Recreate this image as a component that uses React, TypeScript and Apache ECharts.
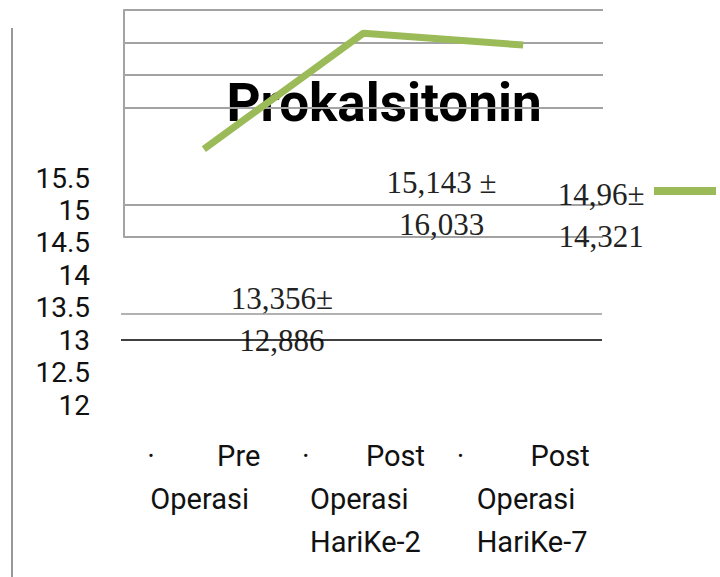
import React, { useEffect, useRef } from "react";
import * as echarts from "echarts";

// ---- data ----
const categories = ["Pre Operasi", "Post Operasi HariKe-2", "Post Operasi HariKe-7"];
const meanValues = [13.356, 15.143, 14.96];
const sdValues = [12.886, 16.033, 14.321];
const pmSeparators = ["±", " ±", "±"];
const yTicks = [12, 12.5, 13, 13.5, 14, 14.5, 15, 15.5];
const refLines = [13.4, 13.0];
const seriesName = "Prokalsitonin";

// ---- style ----
const GREEN = "#9BBB59";
const GRID_GRAY = "#a3a3a3";
const blockWidths = [113, 123, 133];
const indents = [3, 8, 20];

const fmt = (v: number) => String(v).replace(".", ",");

export default function App() {
  const ref = useRef<HTMLDivElement>(null);
  useEffect(() => {
    if (!ref.current) return;
    const chart = echarts.init(ref.current, null, { renderer: "svg" });
    const yMin = yTicks[0];
    const yMax = yTicks[yTicks.length - 1];
    const step = yTicks[1] - yTicks[0];

    const labelFont = { fontFamily: "Roboto", fontSize: 29, lineHeight: 43, color: "#111" };
    const rich: any = { p: { ...labelFont, width: 60, align: "right" } };
    categories.forEach((_, i) => {
      rich["d" + i] = { ...labelFont, width: blockWidths[i] - 60, align: "left" };
      rich["o" + i] = { ...labelFont, align: "left", padding: [0, 0, 0, indents[i]] };
    });

    chart.setOption({
      animation: false,
      backgroundColor: "#fff",
      title: {
        text: seriesName,
        left: 384,
        top: 76,
        textAlign: "center",
        padding: 0,
        z: 0,
        textStyle: { fontFamily: "Roboto", fontWeight: "bold", fontSize: 53, color: "#000" },
      },
      legend: {
        data: [seriesName],
        left: 654,
        top: 187,
        icon: "rect",
        itemWidth: 62,
        itemHeight: 8,
        padding: 0,
        formatter: () => "",
      },
      graphic: [
        {
          type: "line",
          shape: { x1: 12, y1: 28, x2: 12, y2: 577 },
          style: { stroke: "#999", lineWidth: 2 },
        },
      ],
      grid: [
        { left: 124, right: 117, top: 10, bottom: 340 },
        { left: 121, right: 118, top: 178, bottom: 172 },
      ],
      xAxis: [
        {
          type: "category",
          gridIndex: 0,
          data: categories,
          boundaryGap: true,
          axisLine: { show: false },
          axisTick: { show: false },
          axisLabel: {
            interval: 0,
            margin: 197,
            formatter: (value: string, index: number) => {
              const parts = value.split(" ");
              return (
                `{d${index}|·}{p|${parts[0]}}\n` +
                parts.slice(1).map((w) => `{o${index}|${w}}`).join("\n")
              );
            },
            rich,
          },
        },
        { type: "category", gridIndex: 1, data: categories, show: false },
      ],
      yAxis: [
        {
          type: "value",
          gridIndex: 0,
          z: 1,
          min: yMin,
          max: yMax,
          interval: step,
          axisLine: { show: true, lineStyle: { color: GRID_GRAY, width: 2 } },
          axisTick: { show: false },
          axisLabel: { show: false },
          splitLine: {
            show: true,
            lineStyle: {
              width: 2,
              color: [GRID_GRAY, GRID_GRAY, "rgba(0,0,0,0)", "rgba(0,0,0,0)", GRID_GRAY, GRID_GRAY, GRID_GRAY, GRID_GRAY],
            },
          },
        },
        {
          type: "value",
          gridIndex: 1,
          min: yMin,
          max: yMax,
          interval: step,
          axisLine: { show: false },
          axisTick: { show: false },
          splitLine: { show: false },
          axisLabel: {
            margin: 31,
            fontFamily: "Roboto",
            fontSize: 28,
            color: "#111",
            formatter: (v: number) => String(v),
          },
        },
      ],
      series: [
        {
          name: seriesName,
          type: "line",
          xAxisIndex: 0,
          yAxisIndex: 0,
          z: 3,
          data: meanValues,
          symbol: "circle",
          symbolSize: 0.1,
          showSymbol: true,
          itemStyle: { color: GREEN },
          lineStyle: { color: GREEN, width: 7, cap: "butt" },
          label: {
            show: true,
            position: "inside",
            offset: [78, 170],
            fontFamily: "Liberation Serif",
            fontSize: 31,
            lineHeight: 42,
            color: "#222",
            formatter: (p: any) =>
              `${fmt(meanValues[p.dataIndex])}${pmSeparators[p.dataIndex]}\n${fmt(sdValues[p.dataIndex])}`,
          },
        },
        {
          name: "ref",
          type: "line",
          xAxisIndex: 1,
          yAxisIndex: 1,
          data: [],
          silent: true,
          symbol: "none",
          markLine: {
            silent: true,
            symbol: "none",
            label: { show: false },
            data: [
              { yAxis: refLines[0], lineStyle: { color: "#999", width: 1.5, type: "solid" } },
              { yAxis: refLines[1], lineStyle: { color: "#000", width: 1.5, type: "solid" } },
            ],
          },
        },
      ],
    });
    return () => chart.dispose();
  }, []);
  return (
    <div
      ref={ref}
      style={{ position: "absolute", left: 0, top: 0, width: 720, height: 577 }}
    />
  );
}
